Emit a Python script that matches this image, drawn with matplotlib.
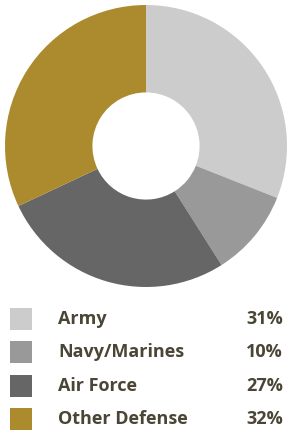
import matplotlib
matplotlib.use("Agg")
import matplotlib.pyplot as plt
from matplotlib.patches import Rectangle

# 資料
labels = ["Army", "Navy/Marines", "Air Force", "Other Defense"]
shares = [31, 10, 27, 32]
colors = ["#cccccc", "#999999", "#666666", "#ab8b2d"]
text_color = "#4a4535"

plt.rcParams['font.family'] = ['Open Sans', 'DejaVu Sans']

W, H = 287, 433
fig = plt.figure(figsize=(W / 100, H / 100), dpi=100)

# 甜甜圈圖
cx, cy, r = 146, 146, 141
ax = fig.add_axes([(cx - r) / W, 1 - (cy + r) / H, 2 * r / W, 2 * r / H])
ax.pie(shares, colors=colors, startangle=90, counterclock=False,
       radius=1, wedgeprops=dict(width=0.62, linewidth=0))
ax.set_xlim(-1, 1)
ax.set_ylim(-1, 1)
ax.set_aspect("equal")
ax.axis("off")

# 圖例
lg = fig.add_axes([0, 0, 1, 1])
lg.set_xlim(0, W)
lg.set_ylim(H, 0)
lg.axis("off")
row_y = [319, 352, 386, 419]
for yy, lab, val, col in zip(row_y, labels, shares, colors):
    lg.add_patch(Rectangle((10, yy - 11), 22, 22, color=col, lw=0))
    lg.text(58, yy, lab, fontsize=13, fontweight="bold", color=text_color,
            va="center", ha="left")
    lg.text(283, yy, f"{val}%", fontsize=13, fontweight="bold", color=text_color,
            va="center", ha="right")

fig.savefig("out.png", dpi=100)
